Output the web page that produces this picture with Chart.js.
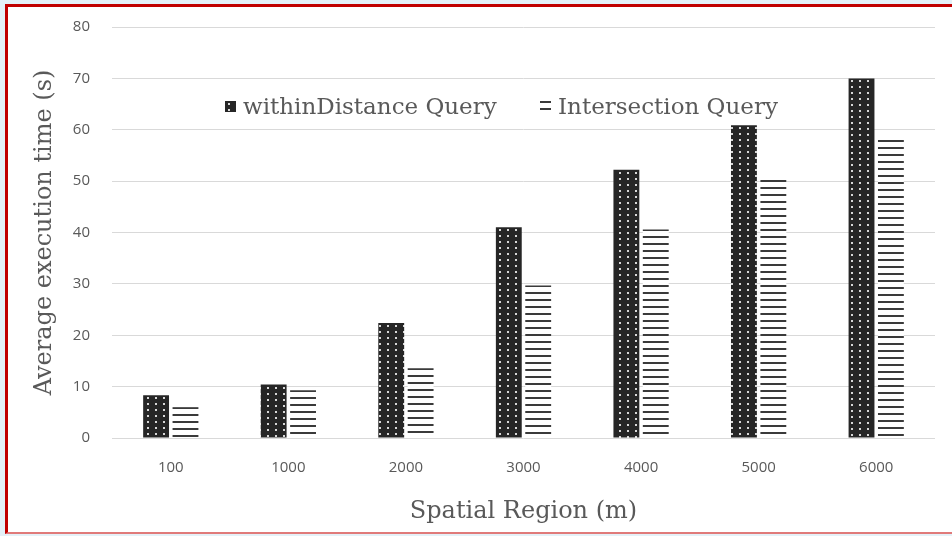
<!DOCTYPE html>
<html>
<head>
<meta charset="utf-8">
<script src="https://cdn.jsdelivr.net/npm/chart.js@4/dist/chart.umd.min.js"></script>
<style>
  html, body { margin: 0; padding: 0; }
  body { width: 952px; height: 536px; background: #e4f1f8; overflow: hidden; position: relative; }
  #frame {
    position: absolute; left: 5px; top: 4px; width: 947px; height: 530px;
    box-sizing: border-box; background: #ffffff;
    border-top: 3px solid #c00000; border-left: 3px solid #c00000; border-bottom: 2px solid #e07a7a;
  }
  #wrap { position: absolute; left: 0; top: 0; width: 944px; height: 525px; }
</style>
</head>
<body>
<div id="frame"><div id="wrap"><canvas id="c"></canvas></div></div>
<script>
// Spatial region sizes (m) and average execution times (s)
const regions = ['100', '1000', '2000', '3000', '4000', '5000', '6000'];
const withinDistanceTimes = [8.3, 10.4, 22.4, 41.0, 52.2, 60.9, 70.0];
const intersectionTimes = [6.0, 9.3, 13.6, 29.7, 40.6, 50.3, 58.0];
const seriesNames = ['withinDistance Query', 'Intersection Query'];
const yTicks = [0, 10, 20, 30, 40, 50, 60, 70, 80];

const serifFont = '"DejaVu Serif", serif';

// Dark fill with a grid of light dots
function dotTile() {
  const t = document.createElement('canvas');
  t.width = 8; t.height = 6;
  const g = t.getContext('2d');
  g.fillStyle = '#262626';
  g.fillRect(0, 0, 8, 6);
  g.fillStyle = '#d8d8d8';
  g.fillRect(3, 2, 2, 2);
  return t;
}
// Horizontal dark stripes on white
function stripeTile() {
  const t = document.createElement('canvas');
  t.width = 8; t.height = 7;
  const g = t.getContext('2d');
  g.fillStyle = '#ffffff';
  g.fillRect(0, 0, 8, 7);
  g.fillStyle = '#3a3a3a';
  g.fillRect(0, 0, 8, 2);
  return t;
}
const tiles = [dotTile(), stripeTile()];
const scratch = document.createElement('canvas').getContext('2d');
const fills = tiles.map(t => scratch.createPattern(t, 'repeat'));

// Pattern whose rows start at the top edge of each bar
function barFill(i) {
  return (c) => {
    if (c.type !== 'data' || !c.chart.scales || !c.chart.scales.y) return fills[i];
    const top = c.chart.scales.y.getPixelForValue(c.raw);
    const p = scratch.createPattern(tiles[i], 'repeat');
    p.setTransform(new DOMMatrix().translate(0, Math.round(top)));
    return p;
  };
}

const legendInside = {
  id: 'legendInside',
  afterDraw(chart) {
    const ctx = chart.ctx;
    const starts = [217, 532];
    const y = 100;
    ctx.save();
    ctx.font = '23px ' + serifFont;
    ctx.textBaseline = 'middle';
    chart.data.datasets.forEach((ds, i) => {
      const x = starts[i];
      const p = ctx.createPattern(tiles[i], 'repeat');
      p.setTransform(new DOMMatrix().translate(x, y - 6));
      ctx.fillStyle = p;
      ctx.fillRect(x, y - 6, 11, 11);
      ctx.fillStyle = '#595959';
      ctx.fillText(ds.label, x + 18, y + 1);
    });
    ctx.restore();
  }
};

new Chart(document.getElementById('c'), {
  type: 'bar',
  data: {
    labels: regions,
    datasets: [
      { label: seriesNames[0], data: withinDistanceTimes, backgroundColor: barFill(0),
        borderWidth: 0, categoryPercentage: 0.5, barPercentage: 0.88 },
      { label: seriesNames[1], data: intersectionTimes, backgroundColor: barFill(1),
        borderWidth: 0, categoryPercentage: 0.5, barPercentage: 0.88 }
    ]
  },
  options: {
    responsive: true,
    maintainAspectRatio: false,
    animation: false,
    layout: { padding: { top: 20, right: 17, left: 0, bottom: 0 } },
    plugins: { legend: { display: false }, tooltip: { enabled: false } },
    scales: {
      x: {
        grid: { display: false, drawTicks: false },
        border: { display: false },
        ticks: { color: '#595959', font: { family: '"Open Sans", sans-serif', size: 15 }, padding: 21 },
        title: {
          display: true, text: 'Spatial Region (m)', color: '#595959',
          font: { family: serifFont, size: 24 },
          padding: { top: 8, bottom: 6 }
        },
        afterFit(s) { s.height = 94; }
      },
      y: {
        min: 0, max: 80,
        afterBuildTicks(s) { s.ticks = yTicks.map(v => ({ value: v })); },
        grid: { color: '#d9d9d9', lineWidth: 1, drawTicks: false },
        border: { display: false },
        ticks: { color: '#595959', font: { family: '"Open Sans", sans-serif', size: 15 }, padding: 22 },
        title: {
          display: true, text: 'Average execution time (s)', color: '#595959',
          font: { family: serifFont, size: 24 },
          padding: { top: 22, bottom: 0 }
        },
        afterFit(s) { s.width = 104; s.paddingTop = 0; s.paddingBottom = 0; }
      }
    }
  },
  plugins: [legendInside]
});
</script>
</body>
</html>
